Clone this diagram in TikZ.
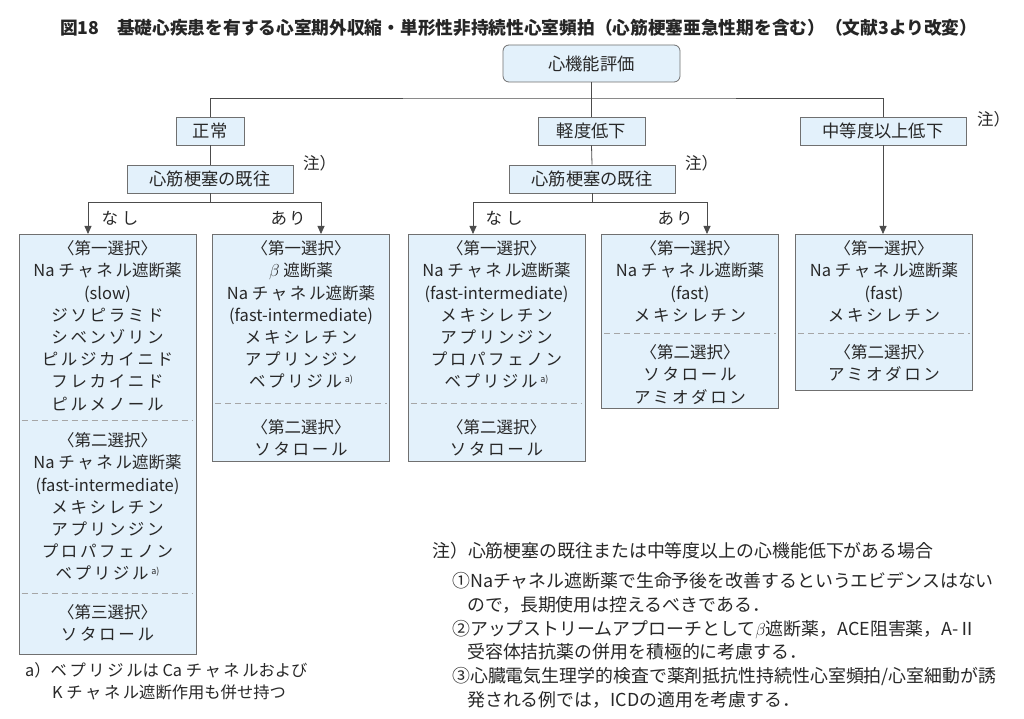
\documentclass[tikz,border=0pt]{standalone}
\usepackage{fontspec}
\usepackage{tikz}
\usetikzlibrary{arrows.meta,positioning}
\newfontfamily\jpfont{Noto Sans CJK JP}
\newfontfamily\jpwide[LetterSpace=16]{Noto Sans CJK JP}
\definecolor{boxblue}{RGB}{227,241,251}
\definecolor{boxline}{RGB}{112,112,112}
\definecolor{inktext}{RGB}{40,40,40}
\newcommand{\supa}{\,\raisebox{5pt}{\fontsize{9}{9}\selectfont\jpfont a)}}
\newcommand{\kn}[1]{{\jpwide #1}}

\begin{document}
\begin{tikzpicture}[x=1pt,y=-1pt,
  headbox/.style={draw=boxline,fill=boxblue,line width=0.8pt,minimum height=28,inner sep=0pt,
    font=\fontsize{17.3}{20}\selectfont\jpfont,text=inktext},
  choicebox/.style={draw=boxline,fill=boxblue,line width=0.8pt,anchor=north,minimum width=177,inner sep=0pt},
  seltext/.style={anchor=north,align=center,inner sep=0pt,font=\fontsize{16.5}{22.2}\selectfont\jpfont,text=inktext},
  plain/.style={inner sep=0pt,font=\fontsize{16.5}{20}\selectfont\jpfont,text=inktext},
  cutline/.style={draw=gray!70,line width=0.8pt,dash pattern=on 6pt off 4pt},
  link/.style={draw=black!70,line width=0.8pt},
  arrowlink/.style={link,-{Triangle[width=7pt,length=8pt]}}]
 \fill[white] (0,0) rectangle (1024,719);
 \useasboundingbox (0,0) rectangle (1024,719);

 % title
 \node[inner sep=0pt,anchor=west,font=\fontsize{17.7}{20}\selectfont\jpfont\bfseries,text=black!85] (title) at (60,28)
   {図18\quad 基礎心疾患を有する心室期外収縮・単形性非持続性心室頻拍（心筋梗塞亜急性期を含む）（文献3より改変）};

 % evaluation tree
 \node[headbox,rounded corners=6pt,minimum width=177,minimum height=37] (eval) at (591.5,63.5) {心機能評価};
 \node[headbox,minimum width=68] (normal) at (210,131) {正常};
 \node[headbox,minimum width=107] (mild) at (591.5,131) {軽度低下};
 \node[headbox,minimum width=166] (moder) at (883,131) {中等度以上低下};
 \node[headbox,minimum width=166] (hist1) at (210,179) {心筋梗塞の既往};
 \node[headbox,minimum width=166] (hist2) at (592,179) {心筋梗塞の既往};
 \node[plain,anchor=west] (note1) at (303,163) {注）};
 \node[plain,anchor=west] (note2) at (685,163) {注）};
 \node[plain,anchor=west] (note3) at (977,119) {注）};

 % drug boxes
 \foreach \nm/\cx/\h in {b1/107.5/420, b2/301/227, b3/496.5/227, b4/690/174, b5/884/156}
   \node[choicebox,minimum height=\h] (\nm) at (\cx,234) {};
 \foreach \nm/\yy in {b1/420, b1/593, b2/403, b3/403, b4/333, b5/333}
   \draw[cutline] ([xshift=3pt]\nm.west |- 0,\yy) -- ([xshift=-3pt]\nm.east |- 0,\yy);

 \node[seltext] (t1a) at (107.5,240.5) {〈第一選択〉\\Na \kn{チャネル}遮断薬\\(slow)\\\kn{ジソピラミド}\\\kn{シベンゾリン}\\\kn{ピルジカイニド}\\\kn{フレカイニド}\\\kn{ピルメノール}};
 \node[seltext] (t1b) at (107.5,432.5) {〈第二選択〉\\Na \kn{チャネル}遮断薬\\(fast-intermediate)\\\kn{メキシレチン}\\\kn{アプリンジン}\\\kn{プロパフェノン}\\\kn{ベプリジル}\supa};
 \node[seltext] (t1c) at (107.5,604.5) {〈第三選択〉\\\kn{ソタロール}};
 \node[seltext] (t2a) at (301,240.5) {〈第一選択〉\\$\beta$ 遮断薬\\Na \kn{チャネル}遮断薬\\(fast-intermediate)\\\kn{メキシレチン}\\\kn{アプリンジン}\\\kn{ベプリジル}\supa};
 \node[seltext] (t2b) at (301,419.5) {〈第二選択〉\\\kn{ソタロール}};
 \node[seltext] (t3a) at (496.5,240.5) {〈第一選択〉\\Na \kn{チャネル}遮断薬\\(fast-intermediate)\\\kn{メキシレチン}\\\kn{アプリンジン}\\\kn{プロパフェノン}\\\kn{ベプリジル}\supa};
 \node[seltext] (t3b) at (496.5,419.5) {〈第二選択〉\\\kn{ソタロール}};
 \node[seltext] (t4a) at (690,240.5) {〈第一選択〉\\Na \kn{チャネル}遮断薬\\(fast)\\\kn{メキシレチン}};
 \node[seltext] (t4b) at (690,344.5) {〈第二選択〉\\\kn{ソタロール}\\\kn{アミオダロン}};
 \node[seltext] (t5a) at (884,240.5) {〈第一選択〉\\Na \kn{チャネル}遮断薬\\(fast)\\\kn{メキシレチン}};
 \node[seltext] (t5b) at (884,344.5) {〈第二選択〉\\\kn{アミオダロン}};

 % connectors
 \coordinate (spine) at (591.5,98);
 \draw[link] (eval.south) -- (mild.north);
 \draw[link] (normal.north) |- (spine) -| (moder.north);
 \draw[link] (normal.south) -- (hist1.north);
 \draw[link] (mild.south) -- (hist2.north);
 \draw[link] (hist1.south) -- ++(0,9) coordinate (fork1);
 \draw[link] (hist2.south) -- ++(0,9) coordinate (fork2);
 \draw[arrowlink] (fork1) -| ([xshift=-19.5pt]b1.north);
 \draw[arrowlink] (fork1) -| ([xshift=20pt]b2.north);
 \draw[arrowlink] (fork2) -| ([xshift=-23.5pt]b3.north);
 \draw[arrowlink] (fork2) -| ([xshift=17pt]b4.north);
 \draw[arrowlink] (moder.south) -- (moder.south |- b5.north);
 \node[plain] (no1) at (120,218) {な\hspace{4pt}し};
 \node[plain] (yes1) at (288,218) {あ\hspace{2pt}り};
 \node[plain] (no2) at (504,218) {な\hspace{4pt}し};
 \node[plain] (yes2) at (675,218) {あ\hspace{2pt}り};

 % footnotes
 \node[plain,anchor=west,align=left,font=\fontsize{16.3}{22}\selectfont\jpfont] (fna) at (25,681)
   {a）\kn{ベプリジル}は Ca \kn{チャネル}および\\\hspace*{27pt}K \kn{チャネル}遮断作用も併せ持つ};
 \node[plain,anchor=west,font=\fontsize{17.9}{20}\selectfont\jpfont] (nhead) at (432,551)
   {注）心筋梗塞の既往または中等度以上の心機能低下がある場合};
 \node[plain,anchor=north west,align=left,font=\fontsize{17.9}{23.8}\selectfont\jpfont] (nlist) at (452,572)
   {①Naチャネル遮断薬で生命予後を改善するというエビデンスはない\\
    \hspace*{15pt}ので，長期使用は控えるべきである．\\
    ②アップストリームアプローチとして$\beta$遮断薬，ACE阻害薬，A-Ⅱ\\
    \hspace*{15pt}受容体拮抗薬の併用を積極的に考慮する．\\
    ③心臓電気生理学的検査で薬剤抵抗性持続性心室頻拍/心室細動が誘\\
    \hspace*{15pt}発される例では，ICDの適用を考慮する．};
\end{tikzpicture}
\end{document}
